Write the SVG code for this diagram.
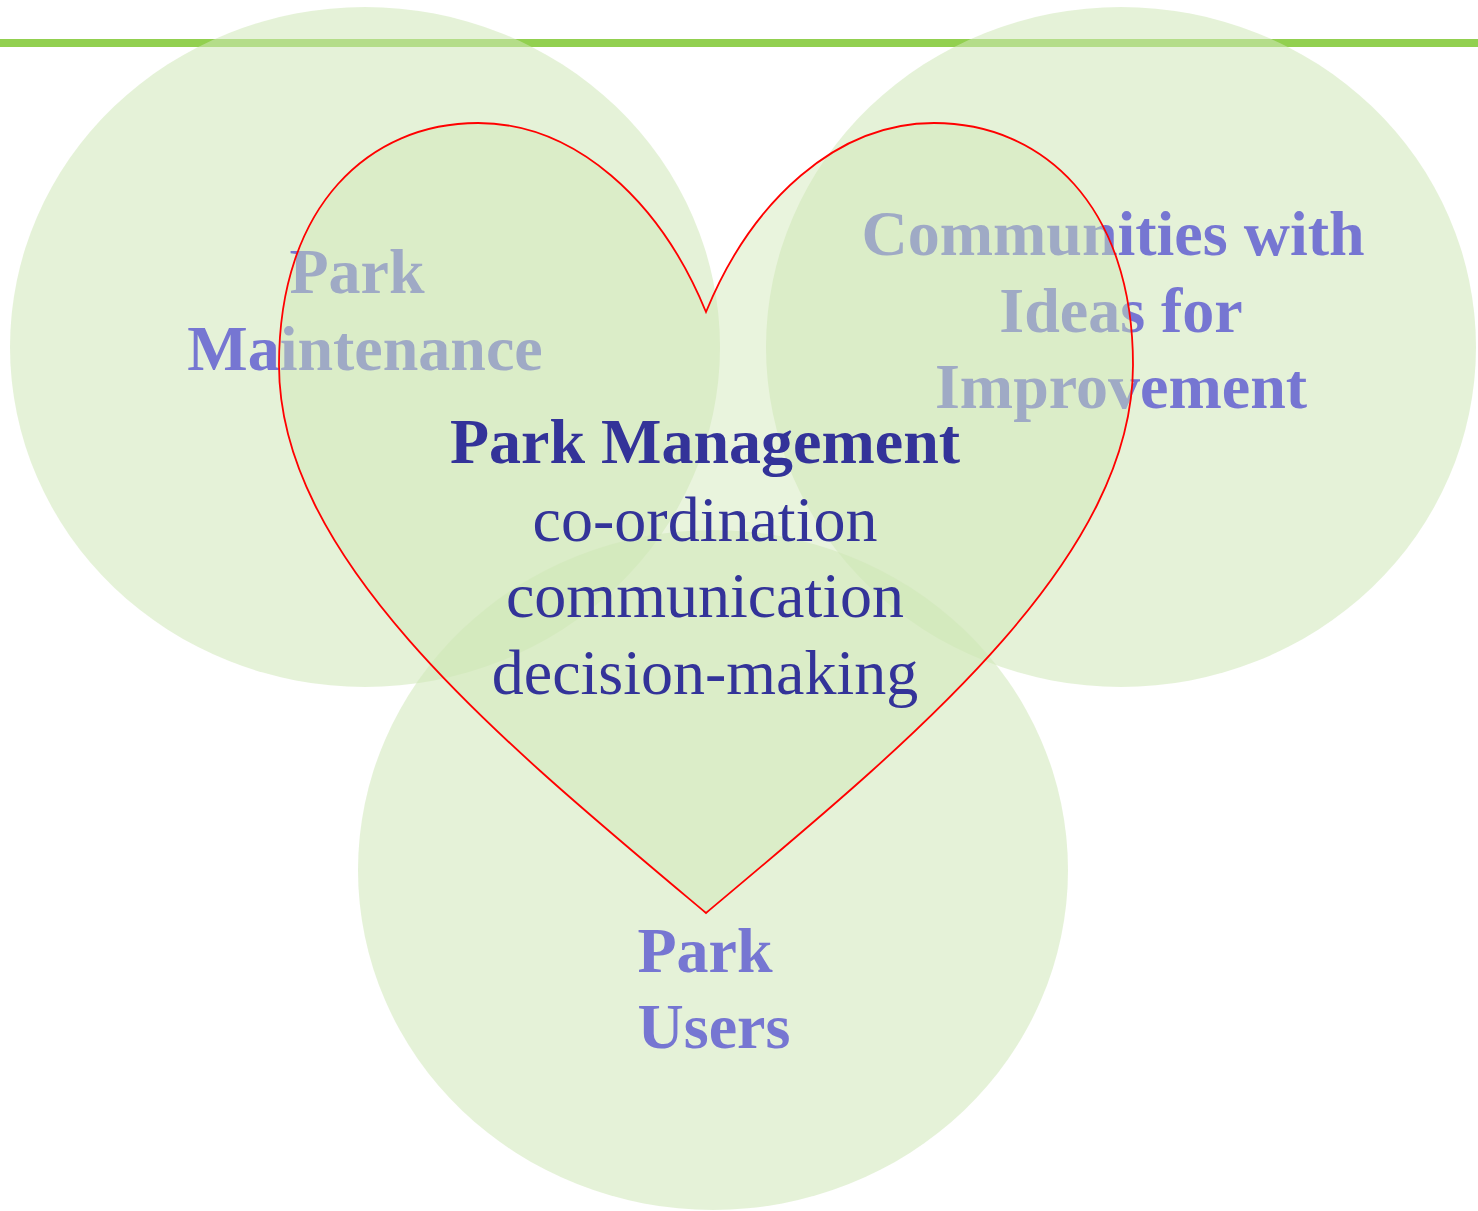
<svg xmlns="http://www.w3.org/2000/svg" width="1478" height="1211" viewBox="0 0 1478 1211">
  <style>
    .bubble { fill: #cfe8b8; fill-opacity: 0.55; stroke: none; }
    .label { font-family: "Liberation Serif", "Times New Roman", serif; font-size: 64px; font-weight: bold; fill: #7676d2; text-anchor: middle; }
    .heart { fill: #d0e8b4; fill-opacity: 0.46; stroke: #ff0000; stroke-width: 1.8; stroke-linejoin: miter; }
    .core-title { font-family: "Liberation Serif", "Times New Roman", serif; font-size: 64px; font-weight: bold; fill: #333399; text-anchor: middle; }
    .core-text { font-family: "Liberation Serif", "Times New Roman", serif; font-size: 64px; fill: #333399; text-anchor: middle; }
  </style>
  <rect x="0" y="0" width="1478" height="1211" fill="#ffffff"/>
  <g id="header-rule">
    <line x1="0" y1="43" x2="1478" y2="43" stroke="#92d050" stroke-width="8"/>
  </g>
  <g id="node-park-maintenance">
    <ellipse class="bubble" cx="365" cy="347" rx="355" ry="340"/>
    <text class="label"><tspan x="357" y="293">Park</tspan><tspan x="365" y="370">Maintenance</tspan></text>
  </g>
  <g id="node-communities">
    <ellipse class="bubble" cx="1121" cy="347" rx="355" ry="340"/>
    <text class="label"><tspan x="1113" y="255">Communities with</tspan><tspan x="1121" y="332">Ideas for</tspan><tspan x="1121" y="408">Improvement</tspan></text>
  </g>
  <g id="node-park-users">
    <ellipse class="bubble" cx="713" cy="870" rx="355" ry="340"/>
    <text class="label"><tspan x="705" y="972">Park</tspan><tspan x="714" y="1048">Users</tspan></text>
  </g>
  <g id="connectors"></g>
  <g id="node-park-management">
    <path class="heart" d="M706 312 C660 200 575 123 478 123 C370 123 279 205 279 365 C279 560 500 740 706 913 C912 740 1133 560 1133 365 C1133 205 1042 123 934 123 C837 123 752 200 706 312 Z"/>
    <text class="core-title" x="705" y="463">Park Management</text>
    <text class="core-text"><tspan x="705" y="541">co-ordination</tspan><tspan x="705" y="617">communication</tspan><tspan x="705" y="694">decision-making</tspan></text>
  </g>
</svg>
